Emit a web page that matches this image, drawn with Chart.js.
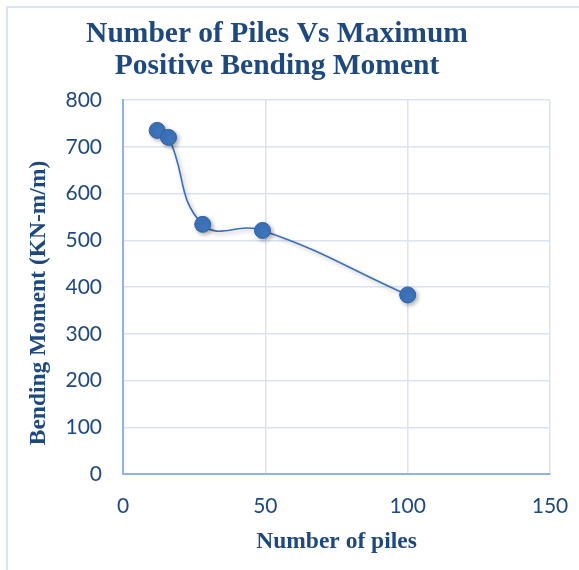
<!DOCTYPE html>
<html lang="en">
<head>
    <meta charset="UTF-8">
    <title>Number of Piles Vs Maximum Positive Bending Moment</title>
    <script src="https://cdn.jsdelivr.net/npm/chart.js"></script>
    <style>
        body {
            margin: 0;
            background-color: #ffffff;
            overflow: hidden;
        }
        #wrap {
            position: relative;
            width: 579px;
            height: 570px;
        }
        .frame {
            position: absolute;
            left: 6px;
            top: 6px;
            width: 600px;
            height: 600px;
            border: 2px solid #dce5f3;
            pointer-events: none;
        }
    </style>
</head>
<body>
<div id="wrap">
    <canvas id="pileChart" width="579" height="570"></canvas>
    <div class="frame"></div>
</div>

<script>
    const piles = [12, 16, 28, 49, 100];
    const moments = [735, 720, 534, 521, 383];
    const xTicks = [0, 50, 100, 150];
    const yTicks = [0, 100, 200, 300, 400, 500, 600, 700, 800];

    const titleLines = ['Number of Piles Vs Maximum', 'Positive Bending Moment'];
    const yTitle = 'Bending Moment (KN-m/m)';
    const xTitle = 'Number of piles';

    const textColor = '#1f497d';

    // titles drawn by hand so they can sit off the plot centre like the original
    const titlesPlugin = {
        id: 'titles',
        afterDraw(chart) {
            const ctx = chart.ctx;
            ctx.save();
            ctx.fillStyle = textColor;
            ctx.textAlign = 'center';
            ctx.textBaseline = 'alphabetic';
            ctx.font = 'bold 29.5px "Liberation Serif", serif';
            ctx.fillText(titleLines[0], 277, 42);
            ctx.fillText(titleLines[1], 277, 74);

            ctx.translate(39, 303);
            ctx.rotate(-Math.PI / 2);
            ctx.textBaseline = 'middle';
            ctx.font = 'bold 23.5px "Liberation Serif", serif';
            ctx.fillText(yTitle, 0, 0);
            ctx.restore();
        }
    };

    const shadowPlugin = {
        id: 'pointShadow',
        beforeDatasetDraw(chart) {
            const ctx = chart.ctx;
            ctx.save();
            ctx.shadowColor = 'rgba(0, 0, 0, 0.3)';
            ctx.shadowBlur = 4;
            ctx.shadowOffsetX = 2;
            ctx.shadowOffsetY = 2;
        },
        afterDatasetDraw(chart) {
            chart.ctx.restore();
        }
    };

    function renderChart() {
        const ctx = document.getElementById('pileChart').getContext('2d');
        new Chart(ctx, {
            type: 'scatter',
            data: {
                datasets: [{
                    label: 'Bending Moment',
                    data: piles.map((p, i) => ({ x: p, y: moments[i] })),
                    showLine: true,
                    tension: 0.45,
                    borderColor: '#3c6fb6',
                    borderWidth: 1.6,
                    pointRadius: 8,
                    pointBackgroundColor: '#3d74bc',
                    pointBorderColor: '#2f62a6',
                    pointBorderWidth: 1
                }]
            },
            options: {
                responsive: false,
                animation: false,
                layout: {
                    padding: { left: 20, right: 29, top: 100, bottom: 14 }
                },
                plugins: {
                    legend: { display: false },
                    tooltip: { enabled: false }
                },
                scales: {
                    x: {
                        type: 'linear',
                        min: 0,
                        max: 150,
                        afterBuildTicks: axis => { axis.ticks = xTicks.map(v => ({ value: v })); },
                        afterFit: axis => {
                            axis.height = 82;
                            axis.paddingLeft = 0;
                            axis.paddingRight = 0;
                        },
                        ticks: {
                            padding: 20,
                            color: textColor,
                            font: { family: 'Lato', size: 21 }
                        },
                        grid: { color: '#d9e3f3', lineWidth: 1.5, drawTicks: false },
                        border: { color: '#8eb4e3', width: 2 },
                        title: {
                            display: true,
                            text: xTitle,
                            color: textColor,
                            font: { family: '"Liberation Serif"', size: 23.5, weight: 'bold' },
                            padding: { top: 0, bottom: 0 }
                        }
                    },
                    y: {
                        min: 0,
                        max: 800,
                        afterBuildTicks: axis => { axis.ticks = yTicks.map(v => ({ value: v })); },
                        afterFit: axis => { axis.width = 103; },
                        ticks: {
                            padding: 21,
                            color: textColor,
                            font: { family: 'Lato', size: 21 }
                        },
                        grid: { color: '#d9e3f3', lineWidth: 1.5, drawTicks: false },
                        border: { color: '#8eb4e3', width: 2 }
                    }
                }
            },
            plugins: [shadowPlugin, titlesPlugin]
        });
    }

    renderChart();
</script>
</body>
</html>
